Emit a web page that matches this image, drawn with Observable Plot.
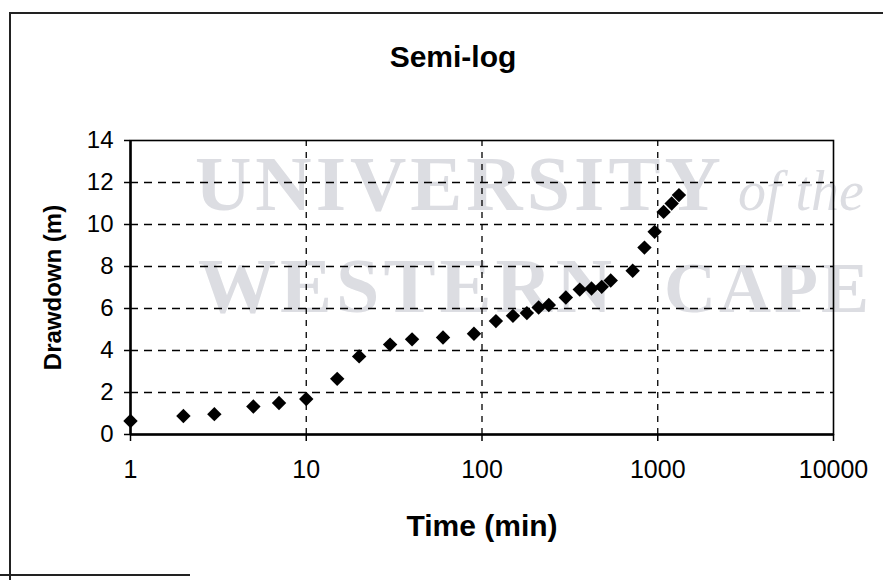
<!DOCTYPE html>
<html>
<head>
<meta charset="utf-8">
<script src="https://cdn.jsdelivr.net/npm/d3@7"></script>
<script src="https://cdn.jsdelivr.net/npm/@observablehq/plot@0.6"></script>
<style>
  body { margin: 0; background: #fff; }
  #wrap { position: relative; width: 883px; height: 580px; overflow: hidden; background: #fff;
          font-family: Arial, "Liberation Sans", sans-serif; }
  #title { position: relative; height: 88px; }
  #title span { position: absolute; left: 0; width: 906px; top: 42px; text-align: center;
                font-size: 30px; line-height: 30px; font-weight: bold; color: #000; }
  .wm { position: absolute; font-family: "Liberation Serif", "DejaVu Serif", serif; font-weight: bold;
        font-size: 78px; line-height: 78px; letter-spacing: 4px; color: #dcdde2; white-space: nowrap; }
  .wm.it { font-weight: normal; font-style: italic; font-size: 56px; line-height: 56px; letter-spacing: 0; }
  .wm.sm { font-size: 72px; line-height: 72px; letter-spacing: 3px; }
  #border { position: absolute; left: 9px; top: 12px; width: 900px; height: 600px;
            border-left: 2px solid #222; border-top: 2px solid #222; }
  #bline { position: absolute; left: 0; top: 574px; width: 190px; height: 2px; background: #222; }
  #chart { position: relative; }
  #chart svg { display: block; }
</style>
</head>
<body>
<div id="wrap">
  <div class="wm" style="left:195px;top:145px;">UNIVERSITY</div>
  <div class="wm it" style="left:738px;top:163px;">of the</div>
  <div class="wm" style="left:198px;top:247px;">WESTERN</div>
  <div class="wm sm" style="left:664px;top:252px;">CAPE</div>
  <div id="border"></div>
  <div id="bline"></div>
  <div id="title"><span>Semi-log</span></div>
  <div id="chart"></div>
</div>
<script>
// Data
const timeMin = [1, 2, 3, 5, 7, 10, 15, 20, 30, 40, 60, 90, 120, 150, 180, 210, 240, 300, 360, 420, 480, 540, 720, 840, 960, 1080, 1200, 1320];
const drawdownM = [0.64, 0.88, 0.97, 1.33, 1.5, 1.69, 2.65, 3.72, 4.28, 4.53, 4.62, 4.8, 5.4, 5.65, 5.78, 6.05, 6.17, 6.52, 6.9, 6.95, 7.03, 7.33, 7.8, 8.9, 9.65, 10.6, 11.0, 11.4];
const xTicks = [1, 10, 100, 1000, 10000];
const yTicks = [0, 2, 4, 6, 8, 10, 12, 14];
const titleText = "Semi-log";
const xLabel = "Time (min)";
const yLabel = "Drawdown (m)";

const data = timeMin.map((t, i) => ({ t, s: drawdownM[i] }));

const chart = Plot.plot({
  width: 883,
  height: 492,
  marginTop: 52,
  marginBottom: 146,
  marginLeft: 130,
  marginRight: 50,
  style: { background: "transparent", fontFamily: "Arial, 'Liberation Sans', sans-serif", color: "#000" },
  x: { type: "log", domain: [1, 10000], label: null },
  y: { domain: [0, 14], label: null },
  marks: [
    Plot.ruleY(yTicks.slice(1, -1), { stroke: "#000", strokeWidth: 1.3, strokeDasharray: "8,6" }),
    Plot.ruleX(xTicks.slice(1, -1), { stroke: "#000", strokeWidth: 1.3, strokeDasharray: "6,6" }),
    Plot.frame({ stroke: "#000", strokeWidth: 1.6 }),
    Plot.axisX({ ticks: xTicks, tickFormat: d => String(d), tickSize: 7, tickPadding: 19, fontSize: 25,
                 label: null, stroke: "#000", strokeWidth: 1.5, fill: "#000" }),
    Plot.axisY({ ticks: yTicks, tickSize: 6, tickPadding: 11, fontSize: 24,
                 label: null, stroke: "#000", strokeWidth: 1.5, fill: "#000" }),
    Plot.ruleX([1], { stroke: "#000", strokeWidth: 2.5 }),
    Plot.ruleY([0], { stroke: "#000", strokeWidth: 2.5 }),
    Plot.dot(data, { x: "t", y: "s", symbol: "diamond2", r: 6.5, fill: "#000", stroke: null }),
    Plot.text([xLabel], { text: d => d, frameAnchor: "bottom", dy: 92, fontSize: 30, fontWeight: "bold",
                          textAnchor: "middle", lineAnchor: "middle", fill: "#000" }),
    Plot.text([yLabel], { text: d => d, frameAnchor: "left", dx: -77, rotate: -90, fontSize: 24,
                          fontWeight: "bold", textAnchor: "middle", lineAnchor: "middle", fill: "#000" })
  ]
});
document.getElementById("chart").appendChild(chart);
document.querySelector("#title span").textContent = titleText;
</script>
</body>
</html>
